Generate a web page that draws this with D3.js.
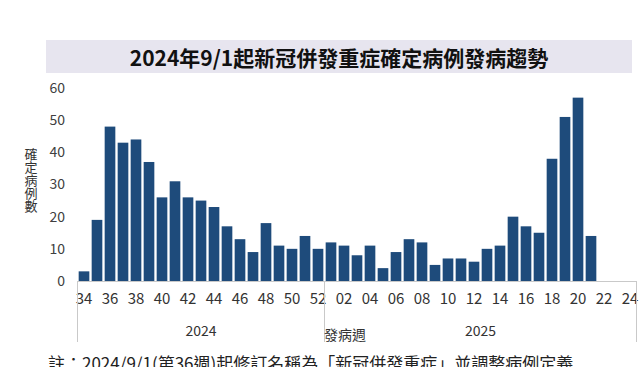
<!DOCTYPE html>
<html>
<head>
<meta charset="utf-8">
<script src="https://cdn.jsdelivr.net/npm/d3@7"></script>
<style>
  body { margin: 0; background: #fff; }
  text { font-family: "Noto Sans CJK TC", "Noto Sans", sans-serif; }
</style>
</head>
<body>
<script>
// weeks and case counts
var weeks2024 = ["34","35","36","37","38","39","40","41","42","43","44","45","46","47","48","49","50","51","52"];
var cases2024 = [3, 19, 48, 43, 44, 37, 26, 31, 26, 25, 23, 17, 13, 9, 18, 11, 10, 14, 10];
var weeks2025 = ["01","02","03","04","05","06","07","08","09","10","11","12","13","14","15","16","17","18","19","20","21","22","23","24"];
var cases2025 = [12, 11, 8, 11, 4, 9, 13, 12, 5, 7, 7, 6, 10, 11, 20, 17, 15, 38, 51, 57, 14];
var yTicks = [0, 10, 20, 30, 40, 50, 60];

var title = "2024年9/1起新冠併發重症確定病例發病趨勢";
var yLabel = "確定病例數";
var xLabel = "發病週";
var note = "註：2024/9/1(第36週)起修訂名稱為「新冠併發重症」並調整病例定義";

window.onload = function() {
  var width = 640, height = 367;

  // build one list of week slots, bars only where there is a value
  var slots = [];
  weeks2024.forEach(function(w, i) {
    slots.push({key: "2024-" + w, week: w, year: "2024", value: cases2024[i]});
  });
  weeks2025.forEach(function(w, i) {
    slots.push({key: "2025-" + w, week: w, year: "2025", value: cases2025[i]});
  });

  var svg = d3.select("body").append("svg")
      .attr("width", width)
      .attr("height", height);

  // title box
  svg.append("rect")
      .attr("x", 46).attr("y", 40)
      .attr("width", 586).attr("height", 33)
      .attr("fill", "#e7e5ef");
  svg.append("text")
      .attr("x", 339).attr("y", 57)
      .attr("text-anchor", "middle")
      .attr("dominant-baseline", "central")
      .style("font-size", "21px")
      .style("font-weight", "bold")
      .attr("fill", "#111")
      .text(title);

  // scales
  var x = d3.scaleBand()
      .domain(slots.map(function(d) { return d.key; }))
      .range([77.5, 636.5])
      .paddingInner(0.18)
      .paddingOuter(0.09);

  var y = d3.scaleLinear()
      .domain([0, 60])
      .range([281, 88]);

  // bars
  svg.selectAll("rect.bar")
      .data(slots.filter(function(d) { return d.value != null; }))
      .enter()
      .append("rect")
      .attr("class", "bar")
      .attr("x", function(d) { return x(d.key); })
      .attr("y", function(d) { return y(d.value); })
      .attr("width", x.bandwidth())
      .attr("height", function(d) { return y(0) - y(d.value); })
      .attr("fill", "#1e4b7b");

  // y axis (labels only)
  var yAxis = svg.append("g")
      .attr("transform", "translate(70,0)")
      .call(d3.axisLeft(y).tickValues(yTicks).tickSize(0).tickPadding(5));
  yAxis.select(".domain").remove();
  yAxis.selectAll("text")
      .style("font-size", "14px")
      .style("font-family", "\"Noto Sans CJK TC\", sans-serif")
      .attr("fill", "#404040");

  // y label, written top to bottom
  svg.append("text")
      .attr("x", 31).attr("y", 148)
      .style("writing-mode", "vertical-rl")
      .style("font-size", "13px")
      .attr("fill", "#333")
      .text(yLabel);

  // x axis, every other week labelled
  var evenKeys = slots.filter(function(d) { return +d.week % 2 == 0; })
      .map(function(d) { return d.key; });
  var xAxis = svg.append("g")
      .attr("transform", "translate(0," + y(0) + ")")
      .call(d3.axisBottom(x).tickValues(evenKeys).tickSize(0).tickPadding(12)
        .tickFormat(function(k) { return k.split("-")[1]; }));
  xAxis.select(".domain").attr("stroke", "#c9c9c9");
  xAxis.selectAll("text")
      .style("font-size", "15px")
      .style("font-family", "\"Noto Sans CJK TC\", sans-serif")
      .attr("fill", "#333");

  // year separators
  var step = x.step(), pad = x.paddingOuter() * step;
  var firstX = x(slots[0].key) - pad;
  var splitX = x("2025-01") - pad;
  var lastX = x(slots[slots.length - 1].key) + x.bandwidth() + pad;
  [firstX, splitX, lastX].forEach(function(px) {
    svg.append("line")
        .attr("x1", px).attr("x2", px)
        .attr("y1", y(0)).attr("y2", 342)
        .attr("stroke", "#c9c9c9")
        .attr("stroke-width", 1);
  });

  // year labels
  svg.append("text")
      .attr("x", (firstX + splitX) / 2).attr("y", 330)
      .attr("text-anchor", "middle").attr("dominant-baseline", "central")
      .style("font-size", "14px").attr("fill", "#333")
      .text("2024");
  svg.append("text")
      .attr("x", (splitX + lastX) / 2).attr("y", 330)
      .attr("text-anchor", "middle").attr("dominant-baseline", "central")
      .style("font-size", "14px").attr("fill", "#333")
      .text("2025");
  svg.append("text")
      .attr("x", 345).attr("y", 334)
      .attr("text-anchor", "middle").attr("dominant-baseline", "central")
      .style("font-size", "14px").attr("fill", "#333")
      .text(xLabel);

  // footnote, cut by the bottom edge as in the source image
  svg.append("text")
      .attr("x", 48).attr("y", 370)
      .style("font-size", "17px").attr("fill", "#222")
      .text(note);
};
</script>
</body>
</html>
